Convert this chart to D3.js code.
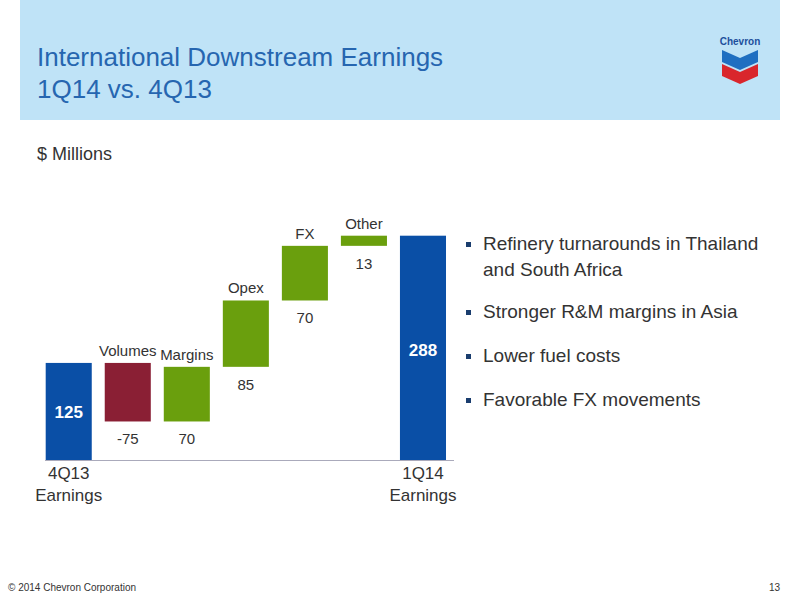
<!DOCTYPE html>
<html><head><meta charset="utf-8">
<script src="https://cdn.jsdelivr.net/npm/d3@7"></script>
<style>body{margin:0;background:#fff}text{font-family:"Liberation Sans",Arial,sans-serif}</style>
</head><body><svg id="c" width="800" height="600"></svg>
<script>
const categories=["4Q13 Earnings","Volumes","Margins","Opex","FX","Other","1Q14 Earnings"];
const values=[125,-75,70,85,70,13,288];
const kinds=["total","delta","delta","delta","delta","delta","total"];
const bullets=["Refinery turnarounds in Thailand|and South Africa","Stronger R&M margins in Asia","Lower fuel costs","Favorable FX movements"];
const svg=d3.select("#c");
svg.append("rect").attr("x",20).attr("y",0).attr("width",760).attr("height",120).attr("fill","#bfe3f7");
svg.append("text").attr("x",37).attr("y",66).attr("font-size",26).attr("fill","#2666b0").text("International Downstream Earnings");
svg.append("text").attr("x",37).attr("y",98).attr("font-size",26).attr("fill","#2666b0").text("1Q14 vs. 4Q13");
const lg=svg.append("g");
lg.append("text").attr("x",740).attr("y",45).attr("text-anchor","middle").attr("font-size",10).attr("font-weight","bold").attr("fill","#1d4f9c").text("Chevron");
lg.append("path").attr("d","M722,50 L740,58 L758,50 L758,62 L740,70 L722,62Z").attr("fill","#1f6fc1");
lg.append("path").attr("d","M722,64 L740,72 L758,64 L758,76 L740,84 L722,76Z").attr("fill","#d9262c");
svg.append("text").attr("x",37).attr("y",160).attr("font-size",18).attr("fill","#333").text("$ Millions");
const x=d3.scaleBand().domain(categories).range([39.2,452.5]).paddingInner(0.22).paddingOuter(0.11);
const y=d3.scaleLinear().domain([0,288]).range([460.5,235.7]);
let run=0;const bars=values.map((v,i)=>{let a,b;if(kinds[i]==="total"){a=0;b=v;run=v;}else{a=run;b=run+v;run=b;}return{c:categories[i],v,lo:Math.min(a,b),hi:Math.max(a,b),k:kinds[i]};});
const col=d=>d.k==="total"?"#0a4fa6":(d.v<0?"#8a1f34":"#6a9f0d");
svg.selectAll(".b").data(bars).join("rect").attr("x",d=>x(d.c)).attr("width",x.bandwidth()).attr("y",d=>y(d.hi)).attr("height",d=>y(d.lo)-y(d.hi)).attr("fill",col);
svg.append("line").attr("x1",45).attr("x2",454).attr("y1",460.5).attr("y2",460.5).attr("stroke","#aab");
bars.forEach(d=>{const cx=x(d.c)+x.bandwidth()/2;
 if(d.k==="total"){svg.append("text").attr("x",cx).attr("y",d.v<200?y(d.hi/2)+6:y(d.hi/2)+8).attr("text-anchor","middle").attr("font-size",17).attr("font-weight","bold").attr("fill","#fff").text(d.v);
  const parts=d.c.split(" ");parts.forEach((p,j)=>svg.append("text").attr("x",cx).attr("y",479+j*22).attr("text-anchor","middle").attr("font-size",17).attr("fill","#333").text(p));}
 else{svg.append("text").attr("x",cx).attr("y",y(d.lo)+23).attr("text-anchor","middle").attr("font-size",15).attr("fill","#333").text(d.v);
  svg.append("text").attr("x",cx).attr("y",y(d.hi)-7).attr("text-anchor","middle").attr("font-size",15).attr("fill","#333").text(d.c);}
});
let by=[250,318,362,406];
bullets.forEach((b,i)=>{svg.append("rect").attr("x",466).attr("y",by[i]-8).attr("width",5).attr("height",5).attr("fill","#1a3d6e");
 b.split("|").forEach((t,j)=>svg.append("text").attr("x",483).attr("y",by[i]+j*26).attr("font-size",19).attr("fill","#333").text(t));});
svg.append("text").attr("x",8).attr("y",591).attr("font-size",10).attr("fill","#333").text("© 2014 Chevron Corporation");
svg.append("text").attr("x",780).attr("y",591).attr("text-anchor","end").attr("font-size",10).attr("fill","#333").text("13");
</script></body></html>
